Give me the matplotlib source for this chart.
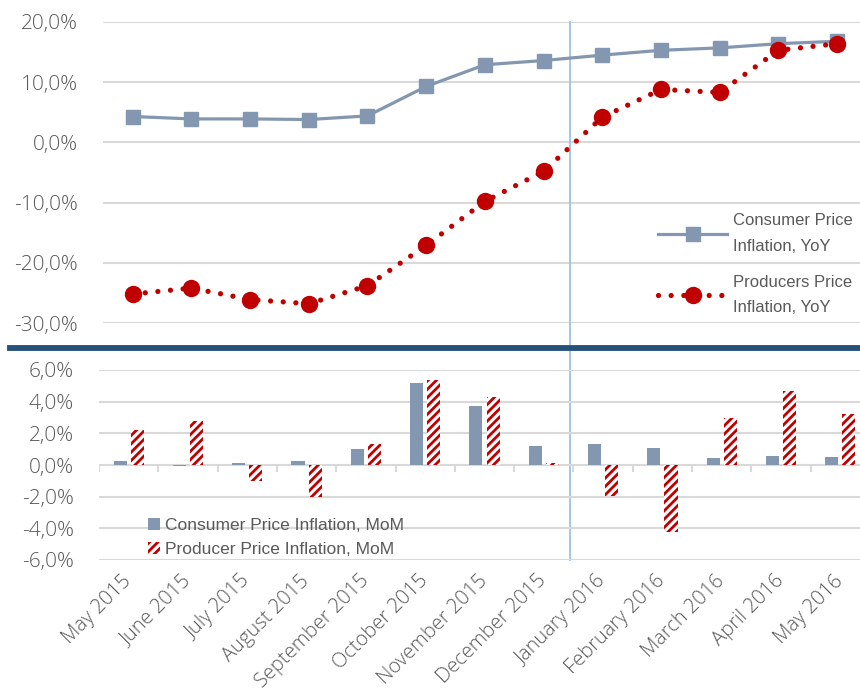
import numpy as np
import matplotlib
matplotlib.use("Agg")
import matplotlib.pyplot as plt
from matplotlib.lines import Line2D
from matplotlib.patches import Patch
from matplotlib.ticker import FuncFormatter

months = ["May 2015", "June 2015", "July 2015", "August 2015", "September 2015",
          "October 2015", "November 2015", "December 2015", "January 2016",
          "February 2016", "March 2016", "April 2016", "May 2016"]

cpi_yoy = [4.3, 3.9, 3.9, 3.8, 4.4, 9.3, 12.9, 13.6, 14.5, 15.3, 15.7, 16.4, 16.8]
ppi_yoy = [-25.2, -24.2, -26.1, -26.8, -23.8, -17.1, -9.8, -4.8, 4.2, 8.8, 8.3, 15.3, 16.4]

cpi_mom = [0.25, -0.05, 0.1, 0.25, 1.0, 5.2, 3.7, 1.2, 1.3, 1.1, 0.45, 0.6, 0.5]
ppi_mom = [2.2, 2.8, -1.0, -2.0, 1.3, 5.4, 4.3, 0.15, -1.95, -4.2, 3.0, 4.7, 3.2]

top_ticks = [-30, -20, -10, 0, 10, 20]
bot_ticks = [-6, -4, -2, 0, 2, 4, 6]

BLUE = "#8497B0"
RED = "#C00000"
GRID = "#D9D9D9"
TXT = "#595959"
NAVY = "#24507A"

plt.rcParams["hatch.linewidth"] = 2.0
tick_font = dict(family=["Open Sans", "DejaVu Sans"], weight="light", size=15)
leg_font = dict(family=["Liberation Sans", "DejaVu Sans"], size=12.5)

W, H = 860, 693
fig = plt.figure(figsize=(W / 100, H / 100), dpi=100)

def px(left, top, right, bottom):
    return [left / W, 1 - bottom / H, (right - left) / W, (bottom - top) / H]

x = np.arange(len(months))
pct = FuncFormatter(lambda v, p: ("%.1f%%" % v).replace(".", ","))

# --- top: year on year lines ---
ax1 = fig.add_axes(px(103.3, 22, 866.5, 323))
ax1.plot(x, cpi_yoy, color=BLUE, lw=2.3, marker="s", ms=9.5, zorder=3)
ax1.plot(x, ppi_yoy, color=RED, lw=3.8, ls=(0, (0.001, 2.4)), dash_capstyle="round",
         marker="o", ms=11.5, zorder=4)
ax1.set_xlim(-0.5, len(months) - 0.5)
ax1.set_ylim(-30, 20)
ax1.set_yticks(top_ticks)
ax1.yaxis.set_major_formatter(pct)
ax1.set_xticks([])
ax1.grid(axis="y", color=GRID, lw=1.5)
ax1.set_axisbelow(True)
for s in ax1.spines.values():
    s.set_visible(False)
ax1.tick_params(axis="y", length=0, pad=18, labelcolor=TXT)
for lab in ax1.get_yticklabels():
    lab.set(**tick_font)
ax1.axvline(7.45, ymin=-0.787, ymax=1, color="#9DC3E6", lw=1.3, clip_on=False, zorder=1)

h1 = [Line2D([], [], color=BLUE, lw=2.3, marker="s", ms=9.5),
      Line2D([], [], color=RED, lw=3.8, ls=(0, (0.001, 2.4)), dash_capstyle="round",
             marker="o", ms=11.5)]
leg1 = ax1.legend(h1, ["Consumer Price\nInflation, YoY", "Producers Price\nInflation, YoY"],
                  loc="upper left", bbox_to_anchor=(650 / W, 1 - 205 / H),
                  bbox_transform=fig.transFigure, frameon=False,
                  prop=dict(leg_font, size=12), labelcolor=TXT, handlelength=4.1,
                  handletextpad=0.4, labelspacing=1.3, borderpad=0)
for t in leg1.get_texts():
    t.set_linespacing(1.85)

# separator
fig.add_artist(Line2D([10 / W, 1], [1 - 348 / H] * 2, color=NAVY, lw=4.2,
                      transform=fig.transFigure))

# --- bottom: month on month bars ---
ax2 = fig.add_axes(px(99, 370, 870, 560))
ax2.patch.set_visible(False)
bw = 0.22
ax2.bar(x - 0.145, cpi_mom, bw, color=BLUE, zorder=3)
ax2.bar(x + 0.145, ppi_mom, bw, facecolor="white", edgecolor=RED, hatch="////",
        lw=0, zorder=3)
ax2.set_xlim(-0.5, len(months) - 0.5)
ax2.set_ylim(-6, 6)
ax2.set_yticks(bot_ticks)
ax2.yaxis.set_major_formatter(pct)
ax2.grid(axis="y", color=GRID, lw=1.5)
ax2.set_axisbelow(True)
for s in ax2.spines.values():
    s.set_visible(False)
ax2.vlines(np.arange(len(months) + 1) - 0.5, -0.45, 0, color=GRID, lw=1.5, zorder=2)
ax2.tick_params(axis="y", length=0, pad=18, labelcolor=TXT)
ax2.tick_params(axis="x", length=0, pad=13, labelcolor=TXT)
ax2.set_xticks(x)
ax2.set_xticklabels(months, rotation=45, ha="right", va="center", rotation_mode="anchor")
for lab in ax2.get_yticklabels():
    lab.set(**tick_font)
for lab in ax2.get_xticklabels():
    lab.set(**dict(tick_font, size=14.5))

h2 = [Patch(facecolor=BLUE), Patch(facecolor="white", edgecolor=RED, hatch="////", lw=0)]
ax2.legend(h2, ["Consumer Price Inflation, MoM", "Producer Price Inflation, MoM"],
           loc="upper left", bbox_to_anchor=(139 / W, 1 - 509 / H),
           bbox_transform=fig.transFigure, frameon=False, prop=leg_font,
           labelcolor=TXT, handlelength=0.7, handleheight=0.7, handletextpad=0.3,
           labelspacing=0.5, borderpad=0)

fig.savefig("out.png", dpi=100)
